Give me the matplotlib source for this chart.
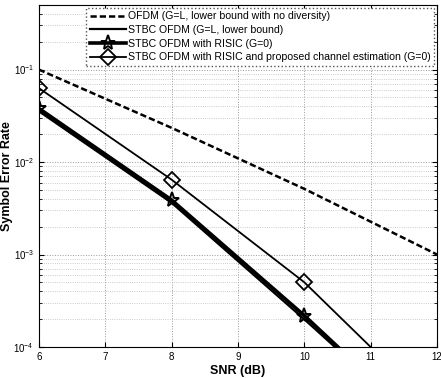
import numpy as np
import matplotlib
matplotlib.use("Agg")
import matplotlib.pyplot as plt
from matplotlib.ticker import LogLocator, NullFormatter

plt.rcParams['font.family'] = ['Liberation Sans', 'DejaVu Sans']

# SNR points (dB)
snr = [6, 8, 10, 12]

# log10 of symbol error rate
ser_ofdm = [-1.00, -1.63, -2.29, -3.00]
ser_stbc_bound = [-1.45, -2.44, -3.70, -5.00]
ser_stbc_risic = [-1.42, -2.41, -3.66, -5.00]
ser_stbc_risic_est = [-1.20, -2.19, -3.30, -4.70]

labels = [
    'OFDM (G=L, lower bound with no diversity)',
    'STBC OFDM (G=L, lower bound)',
    'STBC OFDM with RISIC (G=0)',
    'STBC OFDM with RISIC and proposed channel estimation (G=0)',
]

fig = plt.figure(figsize=(4.41, 3.78), dpi=100)
ax = fig.add_axes([0.088, 0.082, 0.903, 0.905])

ax.plot(snr, 10 ** np.array(ser_ofdm), color='black', linestyle='--', linewidth=1.8,
        dashes=(2.5, 1.2), label=labels[0])
ax.plot(snr, 10 ** np.array(ser_stbc_bound), color='black', linestyle='-', linewidth=1.6,
        label=labels[1])
ax.plot(snr, 10 ** np.array(ser_stbc_risic), color='black', linestyle='-', linewidth=2.6,
        marker='*', markersize=11, markerfacecolor='none', markeredgewidth=1.4,
        label=labels[2])
ax.plot(snr, 10 ** np.array(ser_stbc_risic_est), color='black', linestyle='-', linewidth=1.3,
        marker='D', markersize=8, markerfacecolor='none', markeredgewidth=1.3,
        label=labels[3])

ax.set_yscale('log')
ax.set_xlim(6, 12)
ax.set_ylim(1e-4, 0.5)
ax.set_xticks([6, 7, 8, 9, 10, 11, 12])
ax.yaxis.set_major_locator(LogLocator(base=10, numticks=10))
ax.yaxis.set_minor_locator(LogLocator(base=10, subs=np.arange(2, 10), numticks=20))
ax.yaxis.set_minor_formatter(NullFormatter())

ax.grid(True, which='major', linestyle=':', color='#999999', linewidth=0.7)
ax.grid(True, which='minor', axis='y', linestyle=':', color='#bbbbbb', linewidth=0.6)

ax.tick_params(axis='both', which='both', direction='in', labelsize=7, top=True, right=True)
for s in ax.spines.values():
    s.set_linewidth(0.8)

ax.set_xlabel('SNR (dB)', fontsize=9, fontweight='bold', labelpad=2)
ax.set_ylabel('Symbol Error Rate', fontsize=9, fontweight='bold', labelpad=0)
ax.yaxis.set_label_coords(-0.065, 0.5)

leg = ax.legend(loc='upper right', fontsize=7.6, handlelength=3.4, handletextpad=0.2,
                labelspacing=0.35, borderpad=0.35, borderaxespad=0.25, fancybox=False,
                framealpha=1, edgecolor='#555555')
leg.get_frame().set_linestyle(':')

fig.savefig('out.png', dpi=100)
